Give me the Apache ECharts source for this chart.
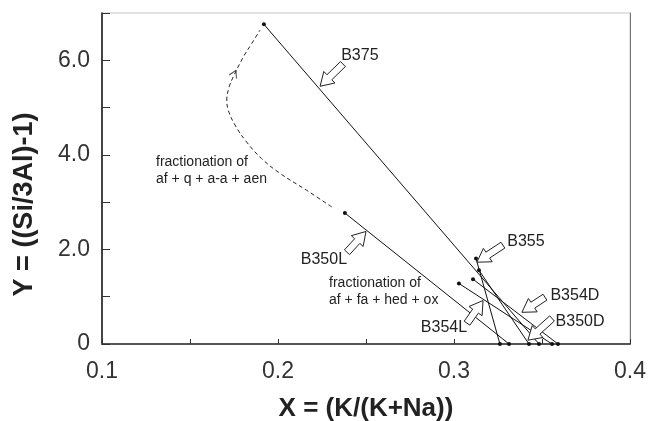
<!DOCTYPE html>
<html>
<head>
<meta charset="utf-8">
<script src="https://cdn.jsdelivr.net/npm/echarts@6/dist/echarts.min.js"></script>
<style>
html,body{margin:0;padding:0;background:#fff;}
#chart{width:649px;height:421px;}
</style>
</head>
<body>
<div id="chart"></div>
<script>
// ---- data ----
const sampleNames = ['B375', 'B350L', 'B355', 'B354L', 'B354D', 'B350D'];
const startX = [0.192, 0.238, 0.3125, 0.3028, 0.3108, 0.3142];
const startY = [6.76, 2.77, 1.81, 1.28, 1.37, 1.56];
const endX = [0.3483, 0.3313, 0.3261, 0.3557, 0.3591, 0.3426];
const endY = [0, 0, 0, 0, 0, 0];

// dashed fractionation path (af + q + a-a + aen)
const pathX = [0.2305, 0.2163, 0.2011, 0.1907, 0.1822, 0.1756, 0.1718, 0.1709, 0.1723, 0.1746, 0.1803, 0.1850, 0.1898];
const pathY = [2.90, 3.25, 3.61, 3.92, 4.27, 4.63, 4.94, 5.16, 5.44, 5.65, 6.07, 6.35, 6.64];
const pathArrowX = [0.1752];
const pathArrowY = [5.72];

// axis ticks
const xTickLabels = ['0.1', '0.2', '0.3', '0.4'];
const yTickLabels = ['0', '2.0', '4.0', '6.0'];

// annotation labels with hollow arrows
const annoNames = ['B375', 'B350L', 'B355', 'B354D', 'B350D', 'B354L'];
const annoTipX = [0.2239, 0.2500, 0.3130, 0.3386, 0.3420, 0.3165];
const annoTipY = [5.45, 2.38, 1.73, 0.67, 0.08, 0.92];
const annoTailX = [0.2369, 0.2392, 0.3278, 0.3517, 0.3557, 0.3074];
const annoTailY = [5.92, 1.94, 2.09, 0.99, 0.54, 0.44];
const annoTextX = [0.2465, 0.2261, 0.3409, 0.3687, 0.3716, 0.2943];
const annoTextY = [6.10, 1.79, 2.17, 1.03, 0.48, 0.35];

const noteTexts = ['fractionation of\naf + q + a-a + aen', 'fractionation of\naf + fa + hed + ox'];
const noteX = [0.1307, 0.2290];
const noteY = [3.67, 1.10];

// ---- chart ----
const FONT = '"Liberation Sans", Arial, Helvetica, sans-serif';
const chart = echarts.init(document.getElementById('chart'));

const series = [];
sampleNames.forEach((n, i) => {
  series.push({
    name: n, type: 'line',
    data: [[startX[i], startY[i]], [endX[i], endY[i]]],
    symbol: 'circle', symbolSize: 4, showSymbol: true,
    itemStyle: { color: '#111' },
    lineStyle: { color: '#111', width: 1 },
    silent: true, animation: false, z: 5
  });
});
series.push({
  name: 'path', type: 'line',
  data: pathX.map((x, i) => [x, pathY[i]]),
  smooth: 0.4, showSymbol: false, symbol: 'none',
  lineStyle: { color: '#222', width: 1, type: [4, 3] },
  silent: true, animation: false
});
series.push({
  name: 'pathArrow', type: 'scatter',
  data: pathArrowX.map((x, i) => [x, pathArrowY[i]]),
  symbol: 'path://M0,10 L5,0 L10,10', symbolSize: [8, 7], symbolRotate: -25,
  itemStyle: { color: 'none', borderColor: '#222', borderWidth: 1 },
  silent: true, animation: false
});

function arrowShape(tail, tip) {
  const dx = tip[0] - tail[0], dy = tip[1] - tail[1];
  const L = Math.sqrt(dx * dx + dy * dy);
  const ux = dx / L, uy = dy / L;
  const nx = -uy, ny = ux;
  const hl = 13, hw = 8, sw = 3.5;
  const bx = tip[0] - ux * hl, by = tip[1] - uy * hl;
  return [
    [tail[0] + nx * sw, tail[1] + ny * sw],
    [bx + nx * sw, by + ny * sw],
    [bx + nx * hw, by + ny * hw],
    [tip[0], tip[1]],
    [bx - nx * hw, by - ny * hw],
    [bx - nx * sw, by - ny * sw],
    [tail[0] - nx * sw, tail[1] - ny * sw]
  ];
}

series.push({
  name: 'annotations', type: 'custom',
  data: annoNames.map((n, i) => [annoTipX[i], annoTipY[i]]),
  clip: false, silent: true, animation: false, z: 10,
  renderItem: function (params, api) {
    const i = params.dataIndex;
    const tip = api.coord([annoTipX[i], annoTipY[i]]);
    const tail = api.coord([annoTailX[i], annoTailY[i]]);
    const tp = api.coord([annoTextX[i], annoTextY[i]]);
    return {
      type: 'group',
      children: [
        { type: 'polygon', shape: { points: arrowShape(tail, tip) },
          style: { fill: '#fff', stroke: '#222', lineWidth: 1 } },
        { type: 'text', x: tp[0], y: tp[1],
          style: { text: annoNames[i], align: 'center', verticalAlign: 'middle',
                   font: '16px ' + FONT, fill: '#222' } }
      ]
    };
  }
});

series.push({
  name: 'notes', type: 'custom',
  data: noteTexts.map((t, i) => [noteX[i], noteY[i]]),
  clip: false, silent: true, animation: false, z: 10,
  renderItem: function (params, api) {
    const i = params.dataIndex;
    const p = api.coord([noteX[i], noteY[i]]);
    return {
      type: 'text', x: p[0], y: p[1],
      style: { text: noteTexts[i], align: 'left', verticalAlign: 'middle',
               font: '14px ' + FONT, lineHeight: 17, fill: '#222' }
    };
  }
});

const option = {
  backgroundColor: '#fff',
  animation: false,
  grid: { left: 102, right: 19, top: 13, bottom: 77, show: true, borderColor: '#c4c4c4', borderWidth: 1, outerBoundsMode: 'none' },
  xAxis: {
    type: 'value', min: 0.1, max: 0.4, interval: 0.05,
    name: 'X = (K/(K+Na))', nameLocation: 'middle', nameGap: 52,
    nameTextStyle: { fontFamily: FONT, fontSize: 26, fontWeight: 'bold', color: '#222' },
    axisLine: { show: true, onZero: false, lineStyle: { color: '#555', width: 2 } },
    axisTick: { show: true, inside: true, length: 5, lineStyle: { color: '#333', width: 1 } },
    axisLabel: {
      fontFamily: FONT, fontSize: 23, color: '#333', margin: 16,
      formatter: function (v) {
        const k = Math.round(v * 10);
        return Math.abs(v * 10 - k) < 1e-6 ? xTickLabels[k - 1] : '';
      }
    },
    splitLine: { show: false }
  },
  yAxis: [{
    type: 'value', min: 0, max: 7, interval: 1,
    name: 'Y = ((Si/3Al)-1)', nameLocation: 'middle', nameGap: 64,
    nameTextStyle: { fontFamily: FONT, fontSize: 27, fontWeight: 'bold', color: '#222', padding: [0, 52, 0, 0] },
    axisLine: { show: true, onZero: false, lineStyle: { color: '#111', width: 1.5 } },
    axisTick: { show: true, inside: true, length: 8, lineStyle: { color: '#333', width: 1 } },
    axisLabel: {
      fontFamily: FONT, fontSize: 23, color: '#333', margin: 12,
      formatter: function (v) { return v % 2 === 0 ? yTickLabels[v / 2] : ''; }
    },
    splitLine: { show: false }
  }, {
    type: 'value', min: 0, max: 7, position: 'right',
    axisLine: { show: true, onZero: false, lineStyle: { color: '#777', width: 1 } },
    axisTick: { show: false }, axisLabel: { show: false }, splitLine: { show: false }
  }],
  series: series
};
chart.setOption(option);
</script>
</body>
</html>
